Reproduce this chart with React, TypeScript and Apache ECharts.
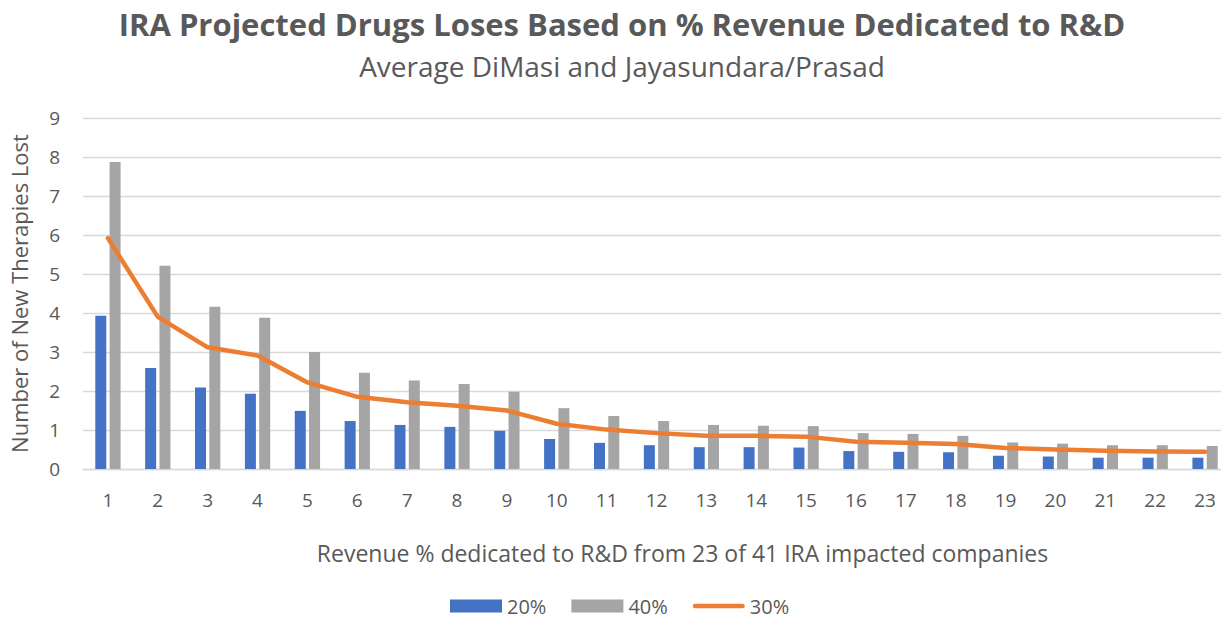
import React, { useEffect, useRef } from "react";
import * as echarts from "echarts";

const categories = ["1","2","3","4","5","6","7","8","9","10","11","12","13","14","15","16","17","18","19","20","21","22","23"];
const pct20 = [3.93,2.59,2.09,1.93,1.49,1.23,1.13,1.08,0.98,0.77,0.67,0.61,0.56,0.56,0.55,0.46,0.44,0.43,0.34,0.32,0.29,0.29,0.29];
const pct40 = [7.87,5.21,4.16,3.88,3.0,2.47,2.27,2.18,1.98,1.56,1.36,1.23,1.13,1.11,1.10,0.92,0.90,0.85,0.68,0.65,0.61,0.61,0.59];
const pct30 = [5.92,3.90,3.12,2.91,2.22,1.85,1.71,1.62,1.50,1.16,1.01,0.92,0.85,0.85,0.83,0.70,0.67,0.64,0.54,0.50,0.47,0.45,0.44];
const yTicks = { min: 0, max: 9, interval: 1 };

const FONT = "Open Sans";
const TXT = "#595959";
const LINE_ICON = "path://M2.25,0 L49.75,0 A2.25,2.25 0 0 1 49.75,4.5 L2.25,4.5 A2.25,2.25 0 0 1 2.25,0 Z";

export default function App() {
  const ref = useRef<HTMLDivElement>(null);
  useEffect(() => {
    if (!ref.current) return;
    const chart = echarts.init(ref.current, undefined, { renderer: "svg" });
    chart.setOption({
      animation: false,
      backgroundColor: "#ffffff",
      title: [
        {
          text: "IRA Projected Drugs Loses Based on % Revenue Dedicated to R&D",
          left: 617, textAlign: "center", top: 3,
          textStyle: { fontFamily: FONT, fontSize: 31, fontWeight: "bold", color: TXT },
        },
        {
          text: "Average DiMasi and Jayasundara/Prasad",
          left: 617, textAlign: "center", top: 47,
          textStyle: { fontFamily: FONT, fontSize: 28, fontWeight: "normal", color: TXT },
        },
      ],
      legend: {
        top: 591, left: 445,
        itemWidth: 52, itemHeight: 13, itemGap: 25,
        textStyle: { fontFamily: FONT, fontSize: 20, lineHeight: 20, color: TXT },
        data: [
          { name: "20%", icon: "rect" },
          { name: "40%", icon: "rect" },
          { name: "30%", icon: LINE_ICON },
        ],
      },
      grid: { left: 80, right: 10, top: 118, bottom: 149, containLabel: false },
      xAxis: {
        type: "category",
        data: categories,
        axisTick: { show: false },
        axisLine: { lineStyle: { color: "#D9D9D9", width: 1.3 } },
        axisLabel: { fontFamily: FONT, fontSize: 19, color: TXT, margin: 21 },
        name: "Revenue % dedicated to R&D from 23 of 41 IRA impacted companies",
        nameLocation: "middle",
        nameGap: 72,
        nameTextStyle: { fontFamily: FONT, fontSize: 23, color: TXT, padding: [0, 0, 0, 52] },
      },
      yAxis: {
        type: "value",
        min: yTicks.min, max: yTicks.max, interval: yTicks.interval,
        axisLine: { show: false },
        axisTick: { show: false },
        splitLine: { lineStyle: { color: "#D9D9D9", width: 1.3 } },
        axisLabel: { fontFamily: FONT, fontSize: 19, color: TXT, margin: 23 },
        name: "Number of New Therapies Lost",
        nameLocation: "middle",
        nameGap: 53,
        nameTextStyle: { fontFamily: FONT, fontSize: 22, color: TXT },
      },
      series: [
        { name: "20%", type: "bar", data: pct20, barWidth: 11, barGap: "30%", itemStyle: { color: "#4472C4" } },
        { name: "40%", type: "bar", data: pct40, barWidth: 11, barGap: "30%", itemStyle: { color: "#A5A5A5" } },
        {
          name: "30%", type: "line", data: pct30, symbol: "none",
          lineStyle: { color: "#ED7D31", width: 4.5, cap: "round", join: "round" },
          itemStyle: { color: "#ED7D31" },
        },
      ],
    });
    return () => chart.dispose();
  }, []);
  return (
    <div style={{ position: "absolute", left: 0, top: 0, width: 1221, height: 618, overflow: "hidden", background: "#fff" }}>
      <div ref={ref} style={{ width: 1240, height: 618 }} />
    </div>
  );
}
